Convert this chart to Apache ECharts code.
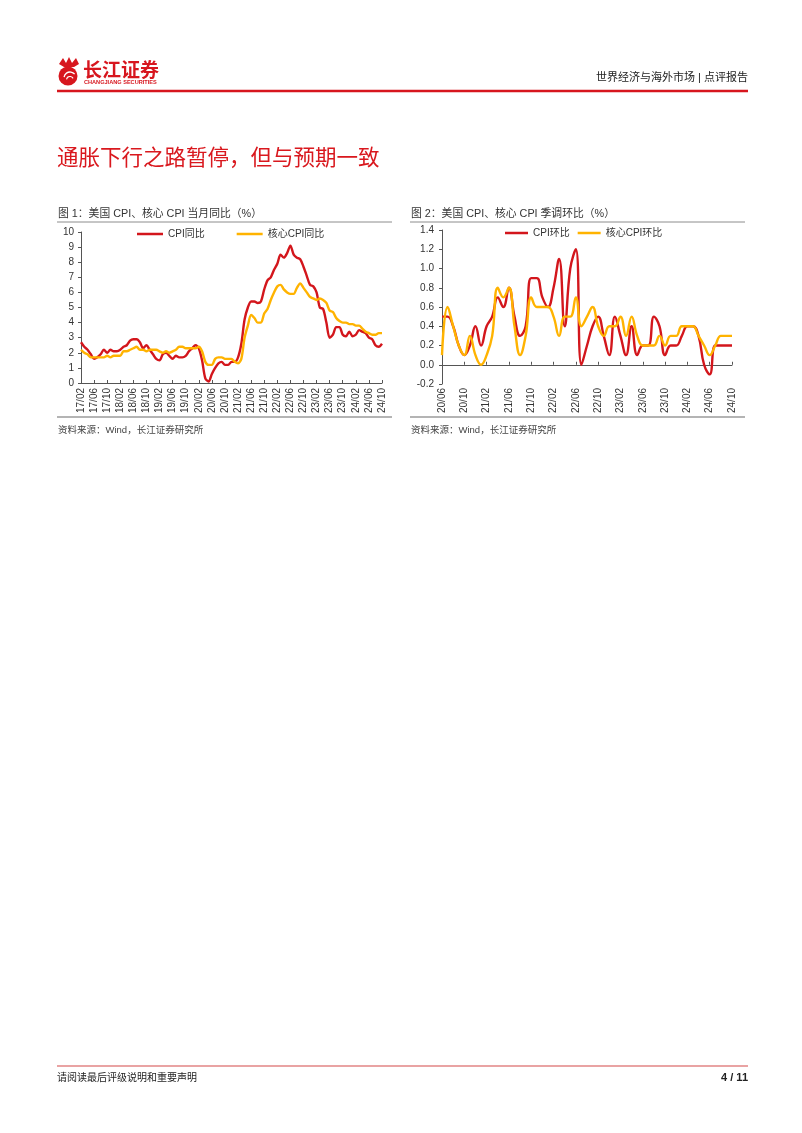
<!DOCTYPE html>
<html><head><meta charset="utf-8">
<script src="https://cdn.jsdelivr.net/npm/echarts@6/dist/echarts.min.js"></script>
<style>html,body{margin:0;padding:0;background:#fff}#c{width:802px;height:1133px}</style>
</head><body><div id="c"></div><script>
// ---- data ----
const cpiYoY = [
  2.7,2.4,2.2,1.9,1.6,1.7,1.9,2.2,2.0,2.2,2.1,
  2.1,2.2,2.4,2.5,2.8,2.9,2.9,2.7,2.3,2.5,2.2,1.9,
  1.6,1.5,1.9,2.0,1.8,1.6,1.8,1.7,1.7,1.8,2.1,2.3,
  2.5,2.3,1.5,0.3,0.1,0.6,1.0,1.3,1.4,1.2,1.2,1.4,
  1.4,1.7,2.6,4.2,5.0,5.4,5.4,5.3,5.4,6.2,6.8,7.0,
  7.5,7.9,8.5,8.3,8.6,9.1,8.5,8.3,8.2,7.7,7.1,6.5,
  6.4,6.0,5.0,4.9,4.0,3.0,3.2,3.7,3.7,3.2,3.1,3.4,
  3.1,3.2,3.5,3.4,3.3,3.0,2.9,2.5,2.4,2.6
];
const coreYoY = [
  2.2,2.0,1.9,1.7,1.7,1.7,1.7,1.7,1.8,1.7,1.8,
  1.8,1.8,2.1,2.1,2.2,2.3,2.4,2.2,2.2,2.1,2.2,2.2,
  2.2,2.1,2.0,2.1,2.0,2.1,2.2,2.4,2.4,2.3,2.3,2.3,
  2.3,2.4,2.1,1.4,1.2,1.2,1.6,1.7,1.7,1.6,1.6,1.6,
  1.4,1.3,1.6,3.0,3.8,4.5,4.3,4.0,4.0,4.6,4.9,5.5,
  6.0,6.4,6.5,6.2,6.0,5.9,5.9,6.3,6.6,6.3,6.0,5.7,
  5.6,5.5,5.6,5.5,5.3,4.8,4.7,4.3,4.1,4.0,4.0,3.9,
  3.9,3.8,3.8,3.6,3.4,3.3,3.2,3.2,3.3,3.3
];
const cpiMoM = [
  0.5,0.5,0.4,0.2,0.1,0.2,0.4,
  0.2,0.4,0.5,0.7,0.6,0.8,0.5,0.3,0.4,0.9,0.9,0.7,
  0.6,0.8,1.1,0.4,1.0,1.2,0.0,0.2,0.4,0.5,0.3,0.1,
  0.5,0.3,0.1,0.4,0.1,0.2,0.2,0.5,0.4,0.1,0.2,0.2,
  0.3,0.4,0.4,0.3,0.0,-0.1,0.2,0.2,0.2,0.2
];
const coreMoM = [
  0.1,0.6,0.4,0.2,0.1,0.3,0.1,
  0.0,0.1,0.3,0.8,0.7,0.8,0.4,0.1,0.3,0.7,0.6,0.6,
  0.6,0.5,0.3,0.5,0.5,0.7,0.4,0.5,0.6,0.4,0.3,0.4,
  0.4,0.5,0.3,0.5,0.3,0.2,0.2,0.2,0.3,0.2,0.3,0.3,
  0.4,0.4,0.4,0.3,0.2,0.1,0.2,0.3,0.3,0.3
];
function monthRange(yy, mm, n) {
  const out = [];
  for (let i = 0; i < n; i++) {
    const y = yy + Math.floor((mm - 1 + i) / 12);
    const m = (mm - 1 + i) % 12 + 1;
    out.push(String(y).padStart(2, '0') + '/' + String(m).padStart(2, '0'));
  }
  return out;
}
const yoyMonths = monthRange(17, 2, cpiYoY.length);
const momMonths = monthRange(20, 6, cpiMoM.length);
const yoyNames = ['CPI同比', '核心CPI同比'];
const momNames = ['CPI环比', '核心CPI环比'];

// ---- style ----
const FONT = '"Liberation Sans", "Noto Sans CJK SC", sans-serif';
const RED = '#D3161C';
const YEL = '#FFB300';
const TXT = '#333';

const chart = echarts.init(document.getElementById('c'), null, {renderer: 'canvas'});

const txt = (x, y, s, o) => ({type: 'text', x, y, style: Object.assign({text: s, fill: TXT, font: '11px ' + FONT, textVerticalAlign: 'middle'}, o || {})});
const line = (x1, y1, x2, y2, color, w) => ({type: 'line', shape: {x1, y1, x2, y2}, style: {stroke: color, lineWidth: w}});

const graphics = [
  // logo emblem
  {type: 'circle', shape: {cx: 68, cy: 76, r: 9.5}, style: {fill: '#D7161E'}},
  {type: 'arc', shape: {cx: 70, cy: 78, r: 6, startAngle: 3.3, endAngle: 5.6}, style: {stroke: '#fff', lineWidth: 1.3, fill: null}},
  {type: 'arc', shape: {cx: 70, cy: 80, r: 3.5, startAngle: 3.3, endAngle: 5.8}, style: {stroke: '#fff', lineWidth: 1.1, fill: null}},
  {type: 'polygon', shape: {points: [[59,64],[63,58],[66,63],[69,57],[72,63],[76,58],[79,64],[74,67],[64,67]]}, style: {fill: '#D7161E'}},
  txt(83, 70, '长江证券', {fill: '#D7161E', font: 'bold 19px "Noto Sans CJK SC", serif'}),
  txt(84, 82.5, 'CHANGJIANG SECURITIES', {fill: '#D7161E', font: 'bold 5.6px ' + FONT}),
  txt(748, 78, '世界经济与海外市场 | 点评报告', {textAlign: 'right', font: '11px ' + FONT, fill: '#222'}),
  line(57, 91, 748, 91, '#D7161E', 2.5),
  // page title
  txt(57, 157, '通胀下行之路暂停，但与预期一致', {fill: '#D9181E', font: '21.5px "Noto Sans CJK SC", sans-serif'}),
  // chart 1 frame
  txt(58, 214, '图 1：美国 CPI、核心 CPI 当月同比（%）', {font: '10.8px ' + FONT, fill: '#333'}),
  line(57, 222, 392, 222, '#8c8c8c', 1),
  line(57, 417, 392, 417, '#b4b4b4', 2),
  txt(58, 430, '资料来源：Wind，长江证券研究所', {font: '9.5px ' + FONT, fill: '#444'}),
  // chart 2 frame
  txt(411, 214, '图 2：美国 CPI、核心 CPI 季调环比（%）', {font: '10.8px ' + FONT, fill: '#333'}),
  line(410, 222, 745, 222, '#8c8c8c', 1),
  line(410, 417, 745, 417, '#b4b4b4', 2),
  txt(411, 430, '资料来源：Wind，长江证券研究所', {font: '9.5px ' + FONT, fill: '#444'}),
  // footer
  line(57, 1066, 748, 1066, '#E9A3A3', 2),
  txt(57, 1078, '请阅读最后评级说明和重要声明', {font: '10px ' + FONT, fill: '#222'}),
  txt(748, 1078, '4 / 11', {textAlign: 'right', font: 'bold 11px ' + FONT, fill: '#222'})
];

const axisLabelStyle = {color: TXT, fontSize: 10, fontFamily: FONT};

const option = {
  animation: false,
  backgroundColor: '#fff',
  graphic: graphics,
  legend: [
    {data: yoyNames, left: 137, top: 229, padding: 0, icon: 'rect', itemWidth: 26, itemHeight: 2.5, itemGap: 32,
     textStyle: {color: TXT, fontSize: 10, fontFamily: FONT}},
    {data: momNames, left: 505, top: 228, padding: 0, icon: 'rect', itemWidth: 23, itemHeight: 2.5, itemGap: 8,
     textStyle: {color: TXT, fontSize: 10, fontFamily: FONT}}
  ],
  grid: [
    {left: 81, top: 232, width: 301, height: 151, containLabel: false},
    {left: 442, top: 230, width: 290, height: 154, containLabel: false}
  ],
  xAxis: [
    {type: 'category', gridIndex: 0, data: yoyMonths, boundaryGap: false,
     axisLine: {lineStyle: {color: '#555', width: 1}},
     axisTick: {show: true, inside: true, length: 3, interval: 3, lineStyle: {color: '#555'}},
     axisLabel: Object.assign({rotate: 90, interval: 3, margin: 5}, axisLabelStyle),
     splitLine: {show: false}},
    {type: 'category', gridIndex: 1, data: momMonths, boundaryGap: false, position: 'bottom',
     axisLine: {show: false, onZero: false},
     axisTick: {show: false},
     axisLabel: Object.assign({rotate: 90, interval: 3, margin: 4}, axisLabelStyle),
     splitLine: {show: false}},
    {type: 'category', gridIndex: 1, data: momMonths, boundaryGap: false, position: 'top',
     axisLine: {show: true, onZero: true, lineStyle: {color: '#555', width: 1}},
     axisTick: {show: true, inside: false, length: 3, interval: 3, lineStyle: {color: '#555'}},
     axisLabel: {show: false},
     splitLine: {show: false}}
  ],
  yAxis: [
    {type: 'value', gridIndex: 0, min: 0, max: 10, interval: 1,
     axisLine: {show: true, lineStyle: {color: '#555'}},
     axisTick: {show: true, length: 3, lineStyle: {color: '#555'}},
     axisLabel: Object.assign({margin: 7}, axisLabelStyle),
     splitLine: {show: false}},
    {type: 'value', gridIndex: 1, min: -0.2, max: 1.4, interval: 0.2,
     axisLine: {show: true, onZero: false, lineStyle: {color: '#555'}},
     axisTick: {show: true, length: 3, lineStyle: {color: '#555'}},
     axisLabel: Object.assign({margin: 8, formatter: v => v.toFixed(1)}, axisLabelStyle),
     splitLine: {show: false}}
  ],
  series: [
    {name: yoyNames[0], type: 'line', xAxisIndex: 0, yAxisIndex: 0, data: cpiYoY, smooth: 0.3,
     showSymbol: false, lineStyle: {color: RED, width: 2.4}, itemStyle: {color: RED}},
    {name: yoyNames[1], type: 'line', xAxisIndex: 0, yAxisIndex: 0, data: coreYoY, smooth: 0.3,
     showSymbol: false, lineStyle: {color: YEL, width: 2.4}, itemStyle: {color: YEL}},
    {name: momNames[0], type: 'line', xAxisIndex: 1, yAxisIndex: 1, data: cpiMoM, smooth: 0.45,
     showSymbol: false, lineStyle: {color: RED, width: 2.4}, itemStyle: {color: RED}},
    {name: momNames[1], type: 'line', xAxisIndex: 1, yAxisIndex: 1, data: coreMoM, smooth: 0.45,
     showSymbol: false, lineStyle: {color: YEL, width: 2.4}, itemStyle: {color: YEL}}
  ]
};
chart.setOption(option);
</script></body></html>
